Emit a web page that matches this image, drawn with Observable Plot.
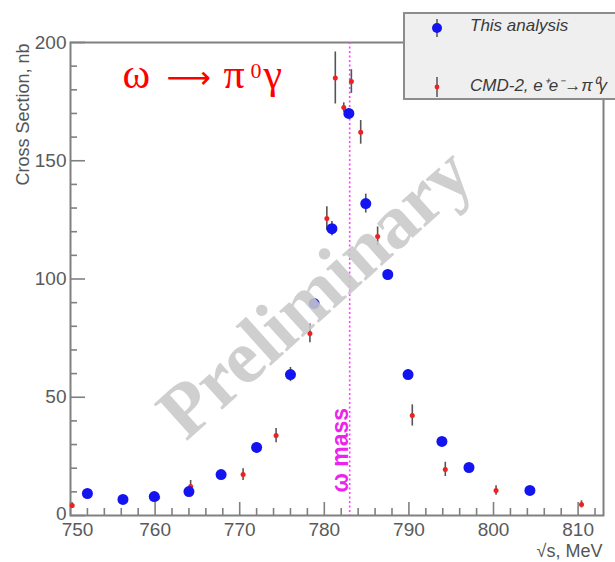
<!DOCTYPE html>
<html><head><meta charset="utf-8">
<script src="https://cdn.jsdelivr.net/npm/d3@7"></script>
<script src="https://cdn.jsdelivr.net/npm/@observablehq/plot@0.6"></script>
<style>
html,body{margin:0;padding:0;background:#fff;overflow:hidden;}
#wrap{position:relative;width:615px;height:562px;overflow:hidden;}
#legend{position:absolute;left:403px;top:12px;width:230px;height:88px;background:#efefef;border:2px solid #8c8c8c;box-sizing:border-box;font-family:"Liberation Sans",Arial,sans-serif;font-style:italic;font-size:17px;color:#3a3a3a;white-space:nowrap;}
#legend .mk{position:absolute;}
#legend .lb{position:absolute;line-height:20px;}
</style></head><body><div id="wrap"></div>
<script>
// This analysis
const thisX = [752.0, 756.2, 759.9, 764.0, 767.8, 772.0, 776.0, 778.8, 780.9, 782.9, 784.9, 787.5, 789.9, 793.9, 797.1, 804.3];
const thisY = [9.3, 6.8, 8.0, 10.1, 17.3, 28.8, 59.6, 89.6, 121.3, 170.0, 131.9, 101.9, 59.6, 31.3, 20.3, 10.6];
const thisErr = [1, 1, 1, 1.2, 1.5, 2, 3, 2, 3, 2, 4, 2, 2, 1.5, 1.5, 1];
// CMD-2
const cmdX = [750.2, 760.3, 764.2, 770.4, 774.3, 778.3, 780.3, 781.3, 782.3, 783.2, 784.3, 786.3, 790.4, 794.3, 800.3, 810.4];
const cmdY = [4.2, 7.6, 12.3, 17.3, 33.8, 77.0, 125.6, 185.0, 172.5, 183.5, 162.0, 118.0, 42.3, 19.5, 10.6, 4.7];
const cmdErr = [1.2, 1.5, 2.5, 2.5, 3, 4, 5, 11, 2, 5, 5, 4, 4.5, 3, 2, 1.5];
// axes
const xTicks = [750, 760, 770, 780, 790, 800, 810];
const yTicks = [0, 50, 100, 150, 200];
const xMinor = d3.range(752, 813, 2).filter(v => v % 10 !== 0);
const yMinor = d3.range(10, 200, 10).filter(v => v % 50 !== 0);
const omegaMass = 783.0;
const titleParts = ["ω", "⟶", "π", "0", "γ"];
const xLabel = "√s, MeV";
const yLabel = "Cross Section, nb";
const watermark = "Preliminary";
const legendLabels = ["This analysis", "CMD-2, e⁺e⁻→π⁰γ"];

const thisData = thisX.map((x, i) => ({x, y: thisY[i], e: thisErr[i]}));
const cmdData = cmdX.map((x, i) => ({x, y: cmdY[i], e: cmdErr[i]}));

const W = 615, H = 562, mL = 70, mR = 12, mT = 42, mB = 47;
const fw = W - mL - mR, fh = H - mT - mB;
const axisCol = "#808080";
const font = "Liberation Sans, Arial, sans-serif";
const serif = "Liberation Serif, Times New Roman, serif";
const red = "#ff0000";
const tcol = "#5a5a5a";

// title layout: [dx, dy(baseline), fontSize, family] relative to frame top-left
const titleLayout = [[52, 45, 42, serif], [96, 45, 31, "DejaVu Sans"], [153, 45, 42, serif], [180, 35, 22, serif], [193, 45, 42, serif]];

const plot = Plot.plot({
  width: W, height: H,
  marginLeft: mL, marginRight: mR, marginTop: mT, marginBottom: mB,
  style: {fontFamily: font, background: "white", overflow: "visible"},
  x: {domain: [750, 813]},
  y: {domain: [0, 200]},
  marks: [
    Plot.axisX(xTicks.slice(0, 1), {tickSize: 0, tickPadding: 7, fontSize: 19, color: tcol, label: null, dx: 7}),
    Plot.axisX(xTicks.slice(1), {tickSize: 0, tickPadding: 7, fontSize: 19, color: tcol, label: null}),
    Plot.axisY(yTicks.slice(0, 1), {tickSize: 0, tickPadding: 4, fontSize: 19, color: tcol, label: null, dy: -2}),
    Plot.axisY(yTicks.slice(1), {tickSize: 0, tickPadding: 4, fontSize: 19, color: tcol, label: null}),
    // inward ticks
    Plot.tickX(xTicks, {x: d => d, stroke: axisCol, strokeWidth: 1.6, insetTop: fh - 13}),
    Plot.tickX(xMinor, {x: d => d, stroke: axisCol, strokeWidth: 1.6, insetTop: fh - 7}),
    Plot.tickY(yTicks, {y: d => d, stroke: axisCol, strokeWidth: 1.6, insetRight: fw - 15}),
    Plot.tickY(yMinor, {y: d => d, stroke: axisCol, strokeWidth: 1.6, insetRight: fw - 7}),
    Plot.frame({stroke: axisCol, strokeWidth: 2}),
    // omega mass line
    Plot.ruleX([omegaMass], {x: d => d, stroke: "#ff40ff", strokeWidth: 1.6, strokeDasharray: "2,2.5"}),
    Plot.text(["ω mass"], {x: () => omegaMass, frameAnchor: "bottom", rotate: -90, textAnchor: "start", lineAnchor: "middle", dx: -9, dy: -23, fontSize: 23, fontWeight: 600, fill: "#ee22ee"}),
    // CMD-2
    Plot.ruleX(cmdData, {x: "x", y1: d => d.y - d.e, y2: d => d.y + d.e, stroke: "#555", strokeWidth: 1.6}),
    Plot.dot(cmdData, {x: "x", y: "y", r: 2.5, fill: "#ee2020", stroke: "none"}),
    // This analysis
    Plot.ruleX(thisData, {x: "x", y1: d => d.y - d.e, y2: d => d.y + d.e, stroke: "#555", strokeWidth: 1.6}),
    Plot.dot(thisData, {x: "x", y: "y", r: 5.5, fill: "#1414f0", stroke: "none"}),
    // title
    ...titleParts.map((t, i) => Plot.text([t], {frameAnchor: "top-left", dx: titleLayout[i][0], dy: titleLayout[i][1], textAnchor: "start", lineAnchor: "bottom", fontSize: titleLayout[i][2], fontFamily: titleLayout[i][3], fill: red})),
    // axis labels
    Plot.text([yLabel], {frameAnchor: "top-left", rotate: -90, textAnchor: "end", lineAnchor: "middle", dx: -47, dy: 1, fontSize: 18, fill: "#555"}),
    Plot.text([xLabel], {frameAnchor: "bottom-right", textAnchor: "end", lineAnchor: "top", dy: 29, dx: -1, fontSize: 18, fill: "#555"}),
    // watermark
    Plot.text([watermark], {frameAnchor: "middle", dx: -22, dy: 14, rotate: -42, fontSize: 76, fontWeight: "bold", fontFamily: serif, fill: "#c8c8c8", fillOpacity: 0.88})
  ]
});

const wrap = document.getElementById("wrap");
wrap.appendChild(plot);

// legend
const legend = document.createElement("div");
legend.id = "legend";
legend.innerHTML = `
  <svg class="mk" style="left:22px;top:2px" width="20" height="24">
    <line x1="10" y1="3" x2="10" y2="21" stroke="#555" stroke-width="1.5"/>
    <circle cx="10" cy="12" r="5" fill="#1414f0"/>
  </svg>
  <span class="lb" style="left:65px;top:2px">${legendLabels[0]}</span>
  <svg class="mk" style="left:22px;top:61px" width="20" height="24">
    <line x1="10" y1="2" x2="10" y2="22" stroke="#555" stroke-width="1.5"/>
    <circle cx="10" cy="12" r="2.4" fill="#ee2020"/>
  </svg>
  <span class="lb" style="left:65px;top:62px">${legendLabels[1]}</span>`;
wrap.appendChild(legend);
</script>
</body></html>
